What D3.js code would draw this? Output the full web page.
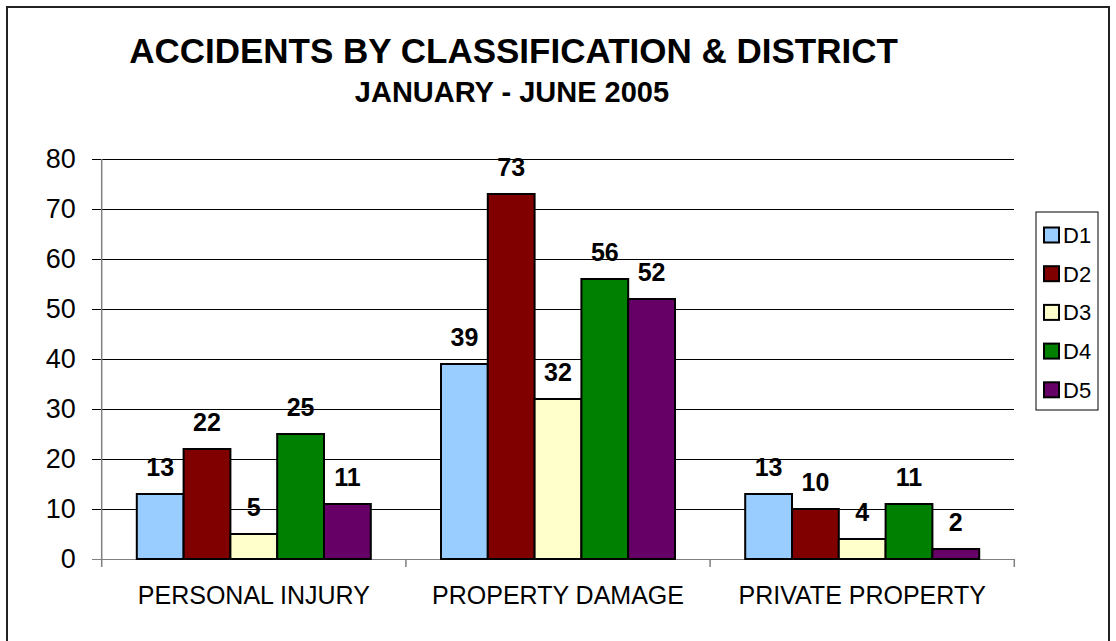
<!DOCTYPE html>
<html><head><meta charset="utf-8">
<script src="https://cdn.jsdelivr.net/npm/d3@7"></script>
<style>body{margin:0;background:#fff}svg{display:block;font-family:Arial,"Liberation Sans",sans-serif}</style>
</head><body><svg id="c" width="1116" height="641"></svg>
<script>
const categories = ["PERSONAL INJURY", "PROPERTY DAMAGE", "PRIVATE PROPERTY"];
const seriesNames = ["D1", "D2", "D3", "D4", "D5"];
const D1 = [13, 39, 13];
const D2 = [22, 73, 10];
const D3 = [5, 32, 4];
const D4 = [25, 56, 11];
const D5 = [11, 52, 2];
const seriesValues = [D1, D2, D3, D4, D5];
const colors = ["#99CCFF", "#800000", "#FFFFCC", "#008000", "#660066"];
const yTicks = [0, 10, 20, 30, 40, 50, 60, 70, 80];
const title = "ACCIDENTS BY CLASSIFICATION & DISTRICT";
const subtitle = "JANUARY - JUNE 2005";

const svg = d3.select("#c");
const L = 101.7, R = 1014.3, T = 159, B = 559;
const FONT = "Arial, 'Liberation Sans', sans-serif";

svg.append("rect").attr("x", 7).attr("y", 7).attr("width", 1102).attr("height", 660)
  .attr("fill", "#fff").attr("stroke", "#222").attr("stroke-width", 2);

svg.append("text").attr("x", 513.5).attr("y", 63).attr("text-anchor", "middle")
  .attr("font-size", 35).attr("font-weight", "bold").text(title);
svg.append("text").attr("x", 512).attr("y", 102).attr("text-anchor", "middle")
  .attr("font-size", 29).attr("font-weight", "bold").text(subtitle);

const x0 = d3.scaleBand().domain(categories).range([L, R]).padding(0);
const bw = x0.bandwidth();
const barW = bw / (seriesNames.length + 1.5);
const x1 = d3.scaleBand().domain(seriesNames).range([barW * 0.75, bw - barW * 0.75]).padding(0);
const y = d3.scaleLinear().domain([0, 80]).range([B, T]);

// gridlines
svg.append("g").selectAll("line").data(yTicks).join("line")
  .attr("x1", L - 10).attr("x2", R).attr("y1", d => y(d)).attr("y2", d => y(d))
  .attr("stroke", d => d === 0 ? "#808080" : "#000").attr("stroke-width", 1)
  .attr("shape-rendering", "crispEdges");

// y axis
const yAxis = svg.append("g").attr("transform", `translate(${L},0)`)
  .call(d3.axisLeft(y).tickValues(yTicks).tickSize(0).tickPadding(26));
yAxis.select(".domain").remove();
yAxis.selectAll("text").attr("font-size", 27).attr("fill", "#000").attr("font-family", FONT);
svg.append("line").attr("x1", L).attr("x2", L).attr("y1", T).attr("y2", B + 8)
  .attr("stroke", "#808080").attr("stroke-width", 1.5);

// category ticks
const bounds = categories.slice(1).map(c => x0(c)).concat([R]);
svg.append("g").selectAll("line").data(bounds).join("line")
  .attr("x1", d => d).attr("x2", d => d).attr("y1", B).attr("y2", B + 8)
  .attr("stroke", "#808080").attr("stroke-width", 1.5);

// x labels
const xAxis = svg.append("g").attr("transform", `translate(0,${B})`)
  .call(d3.axisBottom(x0).tickSize(0).tickPadding(27));
xAxis.select(".domain").remove();
xAxis.selectAll("text").attr("font-size", 25).attr("fill", "#000").attr("font-family", FONT);

// bars
const groups = svg.append("g").selectAll("g").data(categories).join("g")
  .attr("transform", c => `translate(${x0(c)},0)`);
groups.selectAll("rect").data((c, i) => seriesNames.map((s, j) => ({s, v: seriesValues[j][i], c: colors[j]})))
  .join("rect")
  .attr("x", d => x1(d.s)).attr("width", x1.bandwidth())
  .attr("y", d => y(d.v)).attr("height", d => B - y(d.v))
  .attr("fill", d => d.c).attr("stroke", "#000").attr("stroke-width", 2);
groups.selectAll("text").data((c, i) => seriesNames.map((s, j) => ({s, v: seriesValues[j][i]})))
  .join("text")
  .attr("x", d => x1(d.s) + x1.bandwidth() / 2).attr("y", d => y(d.v) - 18)
  .attr("text-anchor", "middle").attr("font-size", 25).attr("font-weight", "bold").text(d => d.v);

// legend
const lg = svg.append("g");
lg.append("rect").attr("x", 1036).attr("y", 212).attr("width", 62).attr("height", 198)
  .attr("fill", "#fff").attr("stroke", "#000").attr("stroke-width", 1);
const items = lg.selectAll("g").data(seriesNames).join("g")
  .attr("transform", (d, i) => `translate(1044,${235 + i * 38.7})`);
items.append("rect").attr("x", 0).attr("y", -7.5).attr("width", 15).attr("height", 15)
  .attr("fill", (d, i) => colors[i]).attr("stroke", "#000").attr("stroke-width", 2);
items.append("text").attr("x", 19).attr("y", 8).attr("font-size", 22).text(d => d);
</script></body></html>
